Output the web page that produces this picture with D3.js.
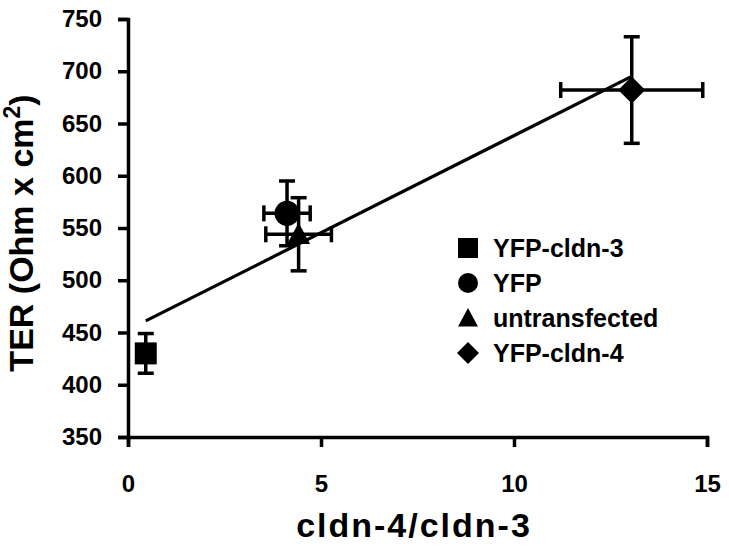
<!DOCTYPE html>
<html>
<head>
<meta charset="utf-8">
<script src="https://cdn.jsdelivr.net/npm/d3@7"></script>
<style>
  body { margin: 0; background: #fff; }
  svg { display: block; font-family: "Liberation Sans", Arial, sans-serif; font-weight: bold; }
  .axis path, .axis line { stroke: #000; stroke-width: 3.5; }
  .axis text { font-size: 24px; font-weight: bold; fill: #000; font-family: "Liberation Sans", Arial, sans-serif; }
</style>
</head>
<body>
<script>
// values
let groups = ['YFP-cldn-3', 'YFP', 'untransfected', 'YFP-cldn-4'];
let shapes = ['square', 'circle', 'triangle', 'diamond'];
let ratio = [0.46, 4.12, 4.42, 13.05];      // cldn-4/cldn-3
let ratioErr = [0, 0.6, 0.85, 1.84];
let ter = [430, 564, 544, 682];              // Ohm x cm2
let terErr = [19, 31, 35, 51];
let xTicks = [0, 5, 10, 15];
let yTicks = [350, 400, 450, 500, 550, 600, 650, 700, 750];

let w = 729;
let h = 549;
let margin = {left: 128, top: 19, right: 22, bottom: 112};

let dataset = groups.map((g, i) => ({
  name: g, shape: shapes[i], x: ratio[i], xe: ratioErr[i], y: ter[i], ye: terErr[i]
}));

// marker outline for a shape, s = full width in px
function markerPath(shape, s) {
  let r = s / 2;
  if (shape === 'square') return `M${-r},${-r}H${r}V${r}H${-r}Z`;
  if (shape === 'circle') return `M${-r},0A${r},${r} 0 1,1 ${r},0A${r},${r} 0 1,1 ${-r},0Z`;
  if (shape === 'triangle') return `M0,${-r}L${r},${r * 0.85}L${-r},${r * 0.85}Z`;
  return `M0,${-r}L${r},0L0,${r}L${-r},0Z`;
}
let markerSize = {square: 22, circle: 25, triangle: 23, diamond: 27};

let svg = d3.select('body').append('svg').attr('width', w).attr('height', h);

let xScale = d3.scaleLinear().domain([0, 15]).range([margin.left, w - margin.right]);
let yScale = d3.scaleLinear().domain([350, 750]).range([h - margin.bottom, margin.top]);

// axes
let xAxis = d3.axisBottom(xScale).tickValues(xTicks).tickSize(10).tickPadding(28);
svg.append('g')
  .attr('class', 'axis')
  .attr('transform', `translate(0, ${yScale(350)})`)
  .call(xAxis);

let yAxis = d3.axisLeft(yScale).tickValues(yTicks).tickSize(10).tickPadding(16);
svg.append('g')
  .attr('class', 'axis')
  .attr('transform', `translate(${xScale(0)}, 0)`)
  .call(yAxis);

// axis titles
svg.append('text')
  .attr('x', 414)
  .attr('y', 537)
  .attr('text-anchor', 'middle')
  .style('font-size', '34px')
  .style('letter-spacing', '2px')
  .text('cldn-4/cldn-3');

let yTitle = svg.append('text')
  .attr('transform', 'translate(33, 233) rotate(-90)')
  .attr('text-anchor', 'middle')
  .style('font-size', '34px');
yTitle.append('tspan').text('TER (Ohm x cm');
yTitle.append('tspan').attr('dy', -13).style('font-size', '23px').text('2');
yTitle.append('tspan').attr('dy', 13).text(')');

// least squares trend line through the four points
let mx = d3.mean(dataset, (d) => d.x);
let my = d3.mean(dataset, (d) => d.y);
let slope = d3.sum(dataset, (d) => (d.x - mx) * (d.y - my)) / d3.sum(dataset, (d) => (d.x - mx) ** 2);
let icpt = my - slope * mx;
let x0 = d3.min(dataset, (d) => d.x), x1 = d3.max(dataset, (d) => d.x);
svg.append('line')
  .attr('x1', xScale(x0)).attr('y1', yScale(icpt + slope * x0))
  .attr('x2', xScale(x1)).attr('y2', yScale(icpt + slope * x1))
  .style('stroke', '#000')
  .style('stroke-width', 3.2);

// error bars
let cap = 8;
let eb = svg.append('g').style('stroke', '#000').style('stroke-width', 3.5);
dataset.forEach((d) => {
  let cx = xScale(d.x), cy = yScale(d.y);
  let yt = yScale(d.y + d.ye), yb = yScale(d.y - d.ye);
  eb.append('line').attr('x1', cx).attr('x2', cx).attr('y1', yt).attr('y2', yb);
  eb.append('line').attr('x1', cx - cap).attr('x2', cx + cap).attr('y1', yt).attr('y2', yt);
  eb.append('line').attr('x1', cx - cap).attr('x2', cx + cap).attr('y1', yb).attr('y2', yb);
  if (d.xe > 0) {
    let xl = xScale(d.x - d.xe), xr = xScale(d.x + d.xe);
    eb.append('line').attr('x1', xl).attr('x2', xr).attr('y1', cy).attr('y2', cy);
    eb.append('line').attr('x1', xl).attr('x2', xl).attr('y1', cy - cap).attr('y2', cy + cap);
    eb.append('line').attr('x1', xr).attr('x2', xr).attr('y1', cy - cap).attr('y2', cy + cap);
  }
});

// markers
svg.selectAll('.marker')
  .data(dataset)
  .enter()
  .append('path')
  .classed('marker', true)
  .attr('transform', (d) => `translate(${xScale(d.x)}, ${yScale(d.y)})`)
  .attr('d', (d) => markerPath(d.shape, markerSize[d.shape]))
  .style('fill', '#000');

// legend
let legend = svg.append('g').attr('transform', 'translate(468, 248)');
let rows = legend.selectAll('g')
  .data(dataset)
  .enter()
  .append('g')
  .attr('transform', (d, i) => `translate(0, ${i * 35})`);
rows.append('path')
  .attr('d', (d) => markerPath(d.shape, d.shape === 'diamond' ? 22 : 20))
  .style('fill', '#000');
rows.append('text')
  .attr('x', 25)
  .attr('dy', '0.35em')
  .style('font-size', '25px')
  .text((d) => d.name);
</script>
</body>
</html>
